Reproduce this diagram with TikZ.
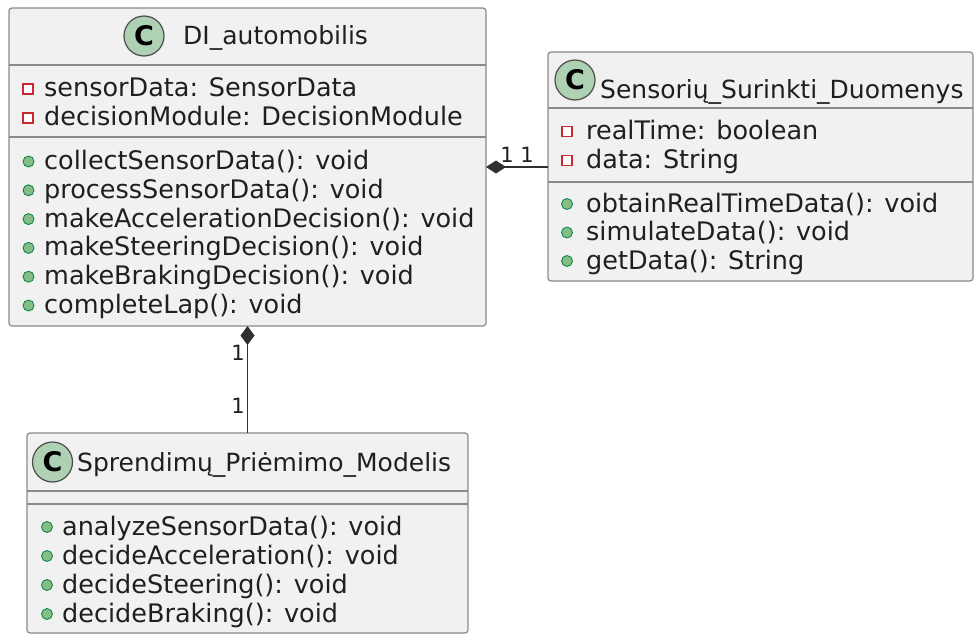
\documentclass[tikz,border=0pt]{standalone}
\usepackage{fontspec}
\setmainfont{DejaVu Sans}
\usetikzlibrary{arrows.meta}
\definecolor{boxfill}{HTML}{F1F1F1}
\definecolor{boxline}{HTML}{8A8A8A}
\definecolor{circfill}{HTML}{ADD1B2}
\definecolor{privred}{HTML}{C82930}
\definecolor{pubfill}{HTML}{84BE84}
\definecolor{publine}{HTML}{038048}
\definecolor{linkcol}{HTML}{303030}
\begin{document}
\begin{tikzpicture}[x=1pt,y=-1pt,
 classbox/.style={draw=boxline, line width=1.2pt, fill=boxfill, rounded corners=3pt, inner sep=0, outer sep=0, anchor=north west},
 sepline/.style={draw=boxline, line width=1.2pt},
 txt/.style={anchor=base west, inner sep=0, font=\fontsize{25.5}{30}\selectfont, text=black!88},
 ttl/.style={anchor=base west, inner sep=0, font=\fontsize{25}{30}\selectfont, text=black!88},
 cicon/.style={circle, draw=black!70, line width=1.2pt, fill=circfill, minimum size=40pt, inner sep=0, font=\fontsize{27}{30}\selectfont\bfseries},
 priv/.style={draw=privred, line width=1.3pt, fill=white, minimum size=10pt, inner sep=0},
 pub/.style={circle, draw=publine, line width=0.8pt, fill=pubfill, minimum size=11pt, inner sep=0},
 link/.style={draw=linkcol, line width=1.3pt},
 mult/.style={inner sep=0, font=\fontsize{21}{24}\selectfont, text=black!88}
]
\useasboundingbox (0,0) rectangle (975,635);

% ---------- DI_automobilis ----------
\node[classbox, minimum width=477pt, minimum height=318pt] (di) at (9,8) {};
\draw[sepline] (di.west |- 0,65) -- (di.east |- 0,65);
\draw[sepline] (di.west |- 0,137) -- (di.east |- 0,137);
\node[cicon] (dic) at (144,36) {C};
\node[ttl] (dit) at (183,44) {DI\_automobilis};
\node[priv] (dia1i) at (28,89) {};
\node[txt] (dia1) at (44,96.5) {sensorData: SensorData};
\node[priv] (dia2i) at (28,118) {};
\node[txt] (dia2) at (44,125.3) {decisionModule: DecisionModule};
\node[pub] (dim1i) at (28.5,161.5) {};
\node[txt] (dim1) at (44,169.5) {collectSensorData(): void};
\node[pub] (dim2i) at (28.5,190.3) {};
\node[txt] (dim2) at (44,198.3) {processSensorData(): void};
\node[pub] (dim3i) at (28.5,219.1) {};
\node[txt] (dim3) at (44,227.1) {makeAccelerationDecision(): void};
\node[pub] (dim4i) at (28.5,247.9) {};
\node[txt] (dim4) at (44,255.9) {makeSteeringDecision(): void};
\node[pub] (dim5i) at (28.5,276.7) {};
\node[txt] (dim5) at (44,284.7) {makeBrakingDecision(): void};
\node[pub] (dim6i) at (28.5,305.5) {};
\node[txt] (dim6) at (44,313.5) {completeLap(): void};

% ---------- Sensoriu_Surinkti_Duomenys ----------
\node[classbox, minimum width=425pt, minimum height=229pt] (sens) at (548,52) {};
\draw[sepline] (sens.west |- 0,108) -- (sens.east |- 0,108);
\draw[sepline] (sens.west |- 0,182) -- (sens.east |- 0,182);
\node[cicon] (sensc) at (575,80) {C};
\node[ttl] (senst) at (600,98) {Sensorių\_Surinkti\_Duomenys};
\node[priv] (sa1i) at (567,131.5) {};
\node[txt] (sa1) at (586,139) {realTime: boolean};
\node[priv] (sa2i) at (567,160.5) {};
\node[txt] (sa2) at (586,168) {data: String};
\node[pub] (sm1i) at (567,204) {};
\node[txt] (sm1) at (586,212) {obtainRealTimeData(): void};
\node[pub] (sm2i) at (567,232.5) {};
\node[txt] (sm2) at (586,240.5) {simulateData(): void};
\node[pub] (sm3i) at (567,261) {};
\node[txt] (sm3) at (586,269) {getData(): String};

% ---------- Sprendimu_Priemimo_Modelis ----------
\node[classbox, minimum width=441pt, minimum height=200pt] (spr) at (27,433) {};
\draw[sepline] (spr.west |- 0,491) -- (spr.east |- 0,491);
\draw[sepline] (spr.west |- 0,504) -- (spr.east |- 0,504);
\node[cicon] (sprc) at (52.5,462) {C};
\node[ttl] (sprt) at (77,471) {Sprendimų\_Priėmimo\_Modelis};
\node[pub] (pm1i) at (47,527) {};
\node[txt] (pm1) at (62,535) {analyzeSensorData(): void};
\node[pub] (pm2i) at (47,556) {};
\node[txt] (pm2) at (62,564) {decideAcceleration(): void};
\node[pub] (pm3i) at (47,585) {};
\node[txt] (pm3) at (62,593) {decideSteering(): void};
\node[pub] (pm4i) at (47,614) {};
\node[txt] (pm4) at (62,622) {decideBraking(): void};

% ---------- connectors ----------
\draw[link, {Diamond[length=20pt,width=13pt]}-] (di.east) -- (sens.west |- di.east);
\draw[link, {Diamond[length=19pt,width=14pt]}-] (di.south) -- (spr.north);
\node[mult] (m1) at (507,155) {1};
\node[mult] (m2) at (527,155) {1};
\node[mult] (m3) at (238,353) {1};
\node[mult] (m4) at (238,406) {1};
\end{tikzpicture}
\end{document}
